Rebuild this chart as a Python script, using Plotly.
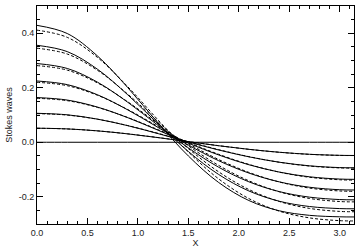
import plotly.graph_objects as go

x = [0.0, 0.3, 0.6, 0.9, 1.2, 1.5, 1.8, 2.1, 2.4, 2.7, 3.0, 3.1416]

solid = {
    "a0.00": [0.0] * 12,
    "a0.05": [0.0516, 0.0490, 0.0418, 0.0307, 0.0170, 0.0020, -0.0128, -0.0260, -0.0367, -0.0442, -0.0480, -0.0485],
    "a0.10": [0.1062, 0.1007, 0.0848, 0.0608, 0.0317, 0.0009, -0.0283, -0.0535, -0.0732, -0.0865, -0.0930, -0.0938],
    "a0.15": [0.1640, 0.1548, 0.1289, 0.0901, 0.0441, -0.0032, -0.0466, -0.0826, -0.1094, -0.1268, -0.1351, -0.1361],
    "a0.20": [0.2248, 0.2115, 0.1741, 0.1187, 0.0542, -0.0104, -0.0677, -0.1131, -0.1453, -0.1651, -0.1742, -0.1752],
    "a0.25": [0.2888, 0.2708, 0.2204, 0.1466, 0.0620, -0.0207, -0.0916, -0.1452, -0.1810, -0.2014, -0.2103, -0.2113],
    "a0.30": [0.3558, 0.3326, 0.2678, 0.1738, 0.0676, -0.0340, -0.1182, -0.1788, -0.2163, -0.2358, -0.2434, -0.2442],
    "a0.35": [0.4290, 0.3990, 0.3164, 0.2003, 0.0708, -0.0504, -0.1476, -0.2139, -0.2514, -0.2682, -0.2736, -0.2741],
}

dashed = {
    "a0.05": [0.0513, 0.0488, 0.0417, 0.0308, 0.0172, 0.0023, -0.0125, -0.0259, -0.0367, -0.0444, -0.0483, -0.0488],
    "a0.10": [0.1050, 0.0997, 0.0844, 0.0611, 0.0326, 0.0021, -0.0272, -0.0529, -0.0733, -0.0873, -0.0942, -0.0950],
    "a0.15": [0.1613, 0.1526, 0.1279, 0.0907, 0.0461, -0.0005, -0.0442, -0.0813, -0.1096, -0.1285, -0.1377, -0.1388],
    "a0.20": [0.2200, 0.2075, 0.1724, 0.1198, 0.0577, -0.0056, -0.0634, -0.1107, -0.1457, -0.1681, -0.1788, -0.1800],
    "a0.25": [0.2813, 0.2646, 0.2177, 0.1483, 0.0675, -0.0133, -0.0849, -0.1415, -0.1817, -0.2062, -0.2175, -0.2188],
    "a0.30": [0.3450, 0.3237, 0.2639, 0.1763, 0.0756, -0.0233, -0.1085, -0.1735, -0.2172, -0.2427, -0.2538, -0.2550],
    "a0.35": [0.4113, 0.3849, 0.3111, 0.2036, 0.0816, -0.0358, -0.1344, -0.2067, -0.2527, -0.2775, -0.2877, -0.2888],
}

x_ticks = [0.0, 0.5, 1.0, 1.5, 2.0, 2.5, 3.0]
x_labels = ["0.0", "0.5", "1.0", "1.5", "2.0", "2.5", "3.0"]
y_ticks = [-0.2, 0.0, 0.2, 0.4]
y_labels = ["-0.2", "0.0", "0.2", "0.4"]

fig = go.Figure()
for name, ys in dashed.items():
    fig.add_trace(go.Scatter(x=x, y=ys, mode="lines", name=name + " dashed",
                             line=dict(color="black", width=1, dash="3px,2px", shape="spline")))
for name, ys in solid.items():
    fig.add_trace(go.Scatter(x=x, y=ys, mode="lines", name=name,
                             line=dict(color="black", width=1, shape="spline")))

axis_common = dict(
    showgrid=False, zeroline=False, showline=True, linecolor="black", linewidth=1,
    mirror="ticks", ticks="inside", ticklen=6, tickcolor="black", tickwidth=1,
    tickfont=dict(family="Liberation Sans, Arial", size=9, color="#222"),
)

fig.update_layout(
    width=360, height=251,
    margin=dict(l=37, r=5, t=5, b=25),
    paper_bgcolor="white", plot_bgcolor="white",
    showlegend=False,
    xaxis=dict(range=[0, 3.1416], tickvals=x_ticks, ticktext=x_labels,
               minor=dict(ticks="inside", ticklen=3, dtick=0.1, tickcolor="black", showgrid=False),
               title=dict(text="X", font=dict(family="Liberation Sans, Arial", size=9, color="#222"), standoff=2),
               **axis_common),
    yaxis=dict(range=[-0.3, 0.5], tickvals=y_ticks, ticktext=y_labels,
               minor=dict(ticks="inside", ticklen=3, dtick=0.05, tickcolor="black", showgrid=False),
               title=dict(text="Stokes waves", font=dict(family="Liberation Sans, Arial", size=9, color="#222"), standoff=4),
               **axis_common),
)

fig.write_html("out.html")
